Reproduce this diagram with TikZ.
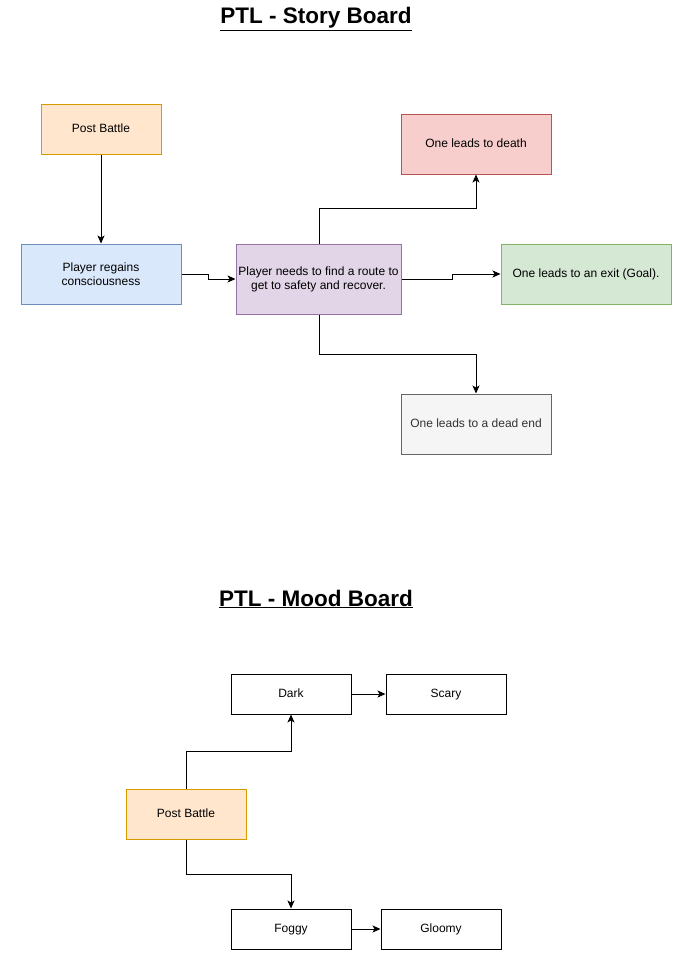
\documentclass[tikz,border=0pt]{standalone}
\usepackage{fontspec}
\setmainfont{Liberation Sans}
\usetikzlibrary{arrows.meta}
\definecolor{orF}{HTML}{FFE6CC}\definecolor{orD}{HTML}{D79B00}
\definecolor{blF}{HTML}{DAE8FC}\definecolor{blD}{HTML}{6C8EBF}
\definecolor{puF}{HTML}{E1D5E7}\definecolor{puD}{HTML}{9673A6}
\definecolor{reF}{HTML}{F8CECC}\definecolor{reD}{HTML}{B85450}
\definecolor{grF}{HTML}{D5E8D4}\definecolor{grD}{HTML}{82B366}
\definecolor{gyF}{HTML}{F5F5F5}\definecolor{gyD}{HTML}{666666}\definecolor{gyT}{HTML}{333333}
\tikzset{
  box/.style={draw, rectangle, line width=1pt, inner sep=0pt, align=center, font=\fontsize{12}{14}\selectfont},
  one/.style={text height=8.8pt, text depth=2.6pt},
  arr/.style={line width=1pt, -{Stealth[length=8pt,width=7pt,inset=2pt]}},
  ttl/.style={font=\fontsize{22.5}{26}\selectfont\bfseries, inner sep=0pt}
}
\begin{document}
\begin{tikzpicture}[x=1pt,y=-1pt]
\useasboundingbox[fill=white] (0,0) rectangle (695,954);
\node[ttl] (t1) at (316,19) {\underline{PTL - Story Board}};
\node[ttl] (t2) at (316,599) {\underline{PTL - Mood Board}};
\node[box, one, fill=orF, draw=orD, minimum width=120pt, minimum height=50pt] (pb1) at (101,129) {Post Battle};
\node[box, fill=blF, draw=blD, minimum width=160pt, minimum height=60pt] (blue) at (101,274) {Player regains\\consciousness};
\node[box, fill=puF, draw=puD, minimum width=165pt, minimum height=70pt] (pn) at (318.5,279) {Player needs to find a route to\\get to safety and recover.};
\node[box, one, fill=reF, draw=reD, minimum width=150pt, minimum height=60pt] (death) at (476,144) {One leads to death};
\node[box, one, fill=grF, draw=grD, minimum width=170pt, minimum height=60pt] (exit) at (586,274) {One leads to an exit (Goal).};
\node[box, one, fill=gyF, draw=gyD, text=gyT, minimum width=150pt, minimum height=60pt] (dead) at (476,424) {One leads to a dead end};
\node[box, one, minimum width=120pt, minimum height=40pt] (dark) at (291,694) {Dark};
\node[box, one, minimum width=120pt, minimum height=40pt] (scary) at (446,694) {Scary};
\node[box, one, fill=orF, draw=orD, minimum width=120pt, minimum height=50pt] (pb2) at (186,814) {Post Battle};
\node[box, one, minimum width=120pt, minimum height=40pt] (foggy) at (291,929) {Foggy};
\node[box, one, minimum width=120pt, minimum height=40pt] (gloomy) at (441,929) {Gloomy};
\draw[arr] (pb1.south) -- (blue.north);
\draw[arr] (blue.east) -- ++(27,0) |- (pn.west);
\draw[arr] ([xshift=0.5pt]pn.north) -- ++(0,-35) -| (death.south);
\draw[arr] (pn.east) -- ++(50.5,0) |- (exit.west);
\draw[arr] ([xshift=0.5pt]pn.south) -- ++(0,40) -| (dead.north);
\draw[arr] (dark.east) -- (scary.west);
\draw[arr] (pb2.north) -- ++(0,-37) -| (dark.south);
\draw[arr] (pb2.south) -- ++(0,35) -| (foggy.north);
\draw[arr] (foggy.east) -- (gloomy.west);
\end{tikzpicture}
\end{document}
